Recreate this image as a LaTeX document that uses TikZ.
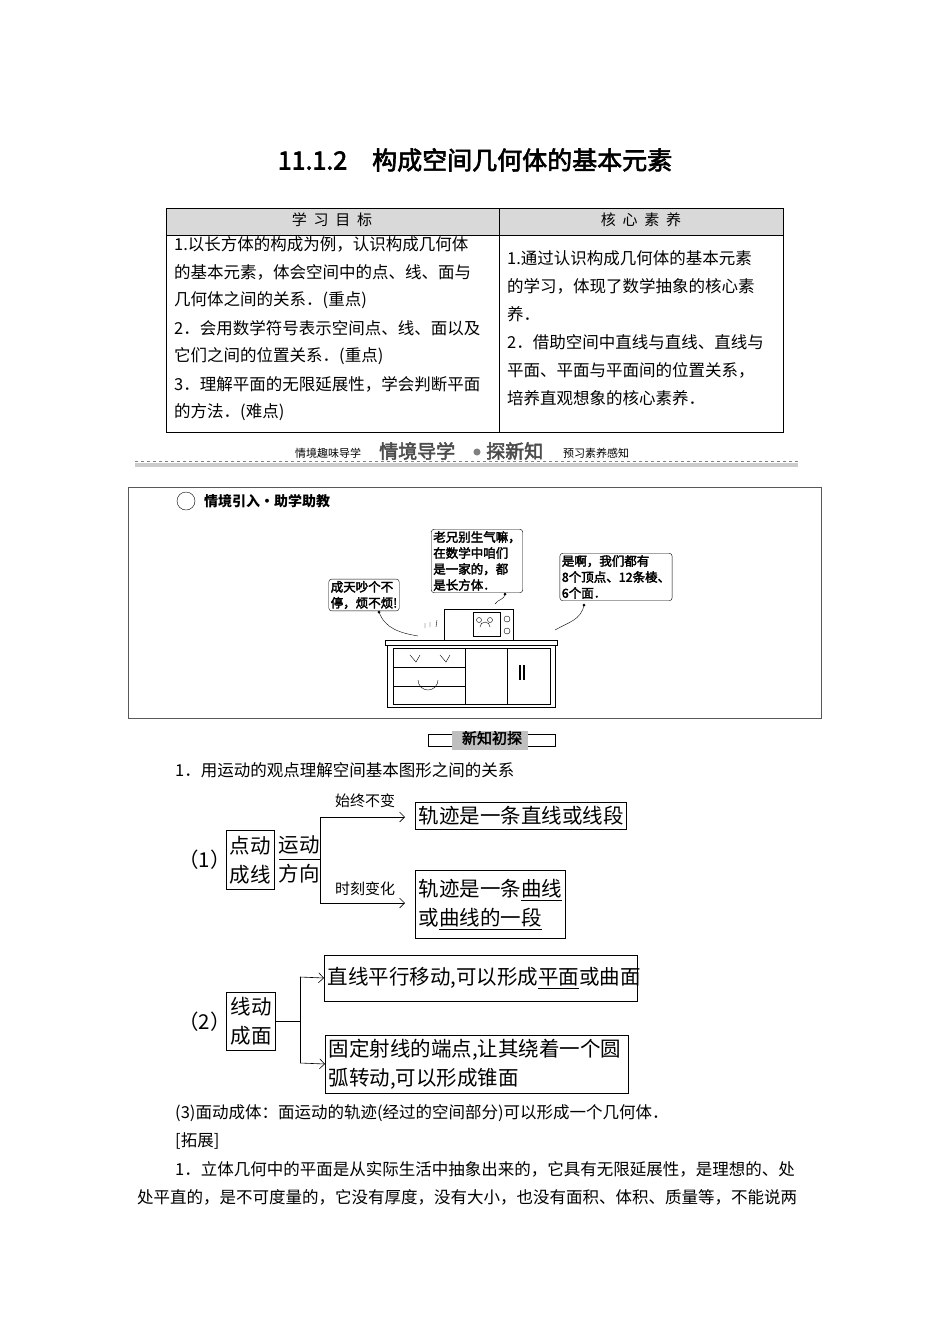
\documentclass[tikz,border=0pt]{standalone}
\usepackage{fontspec}
\setmainfont{Noto Sans CJK SC}[AutoFakeBold=2.5]
\usetikzlibrary{arrows.meta}
\tikzset{
  txt/.style={anchor=west,inner sep=0pt,font=\fontsize{16.5}{20}\selectfont},
  ftxt/.style={font=\fontsize{20.5}{29}\selectfont},
  fbox/.style={draw,line width=1pt,inner sep=0pt},
  bub/.style={draw,rounded corners=3pt,align=left,inner sep=2pt,font=\fontsize{12.5}{16}\selectfont\bfseries},
  arr/.style={-{Straight Barb[length=5pt]},line width=0.6pt},
  ln/.style={line width=0.6pt}
}
\begin{document}
\begin{tikzpicture}[x=1pt,y=-1pt]
\useasboundingbox[fill=white] (0,0) rectangle (950,1344);
% title
\node[font=\fontsize{25}{30}\selectfont\bfseries] (title) at (475,160) {11.1.2\quad 构成空间几何体的基本元素};
% table
\fill[gray!30] (166,208) rectangle (783,235);
\draw[line width=0.6pt] (166,208) rectangle (783,432);
\draw[line width=0.6pt] (166,235) -- (783,235) (499,208) -- (499,432);
\node[font=\fontsize{15}{18}\selectfont] (h1) at (332,220) {学\ \ 习\ \ 目\ \ 标};
\node[font=\fontsize{15}{18}\selectfont] (h2) at (641,220) {核\ \ 心\ \ 素\ \ 养};
\foreach \t [count=\i] in {1.以长方体的构成为例，认识构成几何体,的基本元素，体会空间中的点、线、面与,几何体之间的关系．(重点),2．会用数学符号表示空间点、线、面以及,它们之间的位置关系．(重点),3．理解平面的无限延展性，学会判断平面,的方法．(难点)}
  \node[txt] (l\i) at (174,{244+28*(\i-1)}) {\t};
\foreach \t [count=\i] in {1.通过认识构成几何体的基本元素,的学习，体现了数学抽象的核心素,养．,2．借助空间中直线与直线、直线与,平面、平面与平面间的位置关系，,培养直观想象的核心素养．}
  \node[txt] (r\i) at (507,{258+28*(\i-1)}) {\t};
% banner
\draw[gray,dashed,line width=0.6pt] (135,461) -- (798,461);
\fill[gray!40] (135,463) rectangle (798,467);
\node[font=\fontsize{11}{13}\selectfont,anchor=west,inner sep=0pt] (b1) at (295,453) {情境趣味导学};
\node[font=\fontsize{19}{22}\selectfont\bfseries,anchor=west,inner sep=0pt,text=gray!60!black] (b2) at (379,451) {情境导学};
\node[circle,fill=gray,inner sep=2.5pt] (b3) at (477,452) {};
\node[font=\fontsize{19}{22}\selectfont\bfseries,anchor=west,inner sep=0pt,text=gray!60!black] (b4) at (486,451) {探新知};
\node[font=\fontsize{11}{13}\selectfont,anchor=west,inner sep=0pt] (b5) at (563,453) {预习素养感知};
% scenario box
\draw[line width=0.8pt,gray!70!black] (128,487) rectangle (821,718);
\draw (186,501) circle (9);
\node[font=\fontsize{14}{16}\selectfont\bfseries\itshape,anchor=west,inner sep=0pt] (sc) at (204,501) {情境引入·助学助教};
% cartoon: cabinet
\draw[line width=0.8pt] (385,640) rectangle (557,645);
\draw[line width=0.8pt] (387,645) rectangle (555,707);
\draw (393,648) rectangle (465,704);
\draw (393,667) -- (465,667) (393,686) -- (465,686);
\draw (465,648) rectangle (550,704) (507,648) -- (507,704);
\draw[line width=1.2pt] (520,665) -- (520,680) (524,665) -- (524,680);
\draw (410,655) -- (416,662) -- (420,655) (440,655) -- (446,662) -- (450,655);
\draw (418,680) arc (180:0:10);
% microwave
\draw[line width=0.8pt] (444,609) rectangle (513,640);
\draw (473,612) rectangle (500,636);
\draw (507,619) circle (3) (507,631) circle (3);
\draw (479,620) circle (2.5) (490,620) circle (2.5);
\draw (480,627) arc (180:360:5);
% bubbles
\node[bub] (bl) at (364,595) {成天吵个不\\停，烦不烦!};
\node[bub] (bm) at (477,561) {老兄别生气嘛，\\在数学中咱们\\是一家的，都\\是长方体．};
\node[bub] (br) at (616,577) {是啊，我们都有\\8个顶点、12条棱、\\6个面．};
\coordinate (tl) at (418,636);
\coordinate (tm) at (495,604);
\coordinate (tr) at (555,630);
\fill (379,612) circle (1.5) (505,594) circle (1.5) (584,605) circle (1.5);
\draw (379,612) to[out=-70,in=170] (tl);
\draw (505,594) to[out=-90,in=60] (tm);
\draw (584,605) to[out=-100,in=30] (tr);
\draw (425,628) -- (425,623) (430,627) -- (430,622) (436,627) -- (437,620);
% new knowledge banner
\draw (428,734) rectangle (555,746);
\fill[gray!50] (452,731) rectangle (528,750);
\node[font=\fontsize{15}{18}\selectfont\bfseries,inner sep=0pt] (nk) at (492,738) {新知初探};
\node[txt] (p1) at (175,770) {1．用运动的观点理解空间基本图形之间的关系};
% flowchart 1
\node[ftxt,anchor=west,inner sep=0pt] (n1) at (178,860) {（1）};
\node[fbox,ftxt,align=center,minimum width=48pt,minimum height=59pt] (dd) at (250,860) {点动\\成线};
\node[ftxt,align=center,inner sep=0pt] (yd) at (299,859) {运动\\方向};
\draw[ln] (279,859) -- (320,859);
\draw[ln] (320,817) -- (320,903);
\node[fbox,ftxt,anchor=west,minimum height=27pt,inner xsep=3pt] (g1) at (415,816) {轨迹是一条直线或线段};
\node[fbox,ftxt,anchor=north west,align=left,minimum height=68pt,inner xsep=3pt] (g2) at (415,870) {轨迹是一条\underline{曲线}\\或\underline{曲线的一段}};
\draw[arr] (320,817) -- (405,817);
\draw[arr] (320,903) -- (405,903);
\node[font=\fontsize{15}{18}\selectfont,inner sep=0pt] (s1) at (365,801) {始终不变};
\node[font=\fontsize{15}{18}\selectfont,inner sep=0pt] (s2) at (365,889) {时刻变化};
% flowchart 2
\node[ftxt,anchor=west,inner sep=0pt] (n2) at (178,1022) {（2）};
\node[fbox,ftxt,align=center,minimum width=49pt,minimum height=58pt] (xd) at (251,1021) {线动\\成面};
\draw[ln] (xd.east) -- (300,1021);
\draw[ln] (300,977) -- (300,1063);
\node[fbox,ftxt,anchor=west,minimum width=313pt,minimum height=46pt,inner xsep=3pt,align=left,text width=307pt] (g3) at (324,978) {直线平行移动,可以形成\underline{平面}或曲面};
\node[fbox,ftxt,anchor=west,minimum width=303pt,minimum height=58pt,inner xsep=3pt,align=left,text width=297pt] (g4) at (325,1064) {固定射线的端点,让其绕着一个圆\\弧转动,可以形成锥面};
\draw[arr] (300,977) -- (g3.west);
\draw[arr] (300,1063) -- (g4.west);
% text below
\node[txt] (p3) at (175,1113) {(3)面动成体：面运动的轨迹(经过的空间部分)可以形成一个几何体．};
\node[txt] (p4) at (175,1141) {[拓展]};
\node[txt] (p5) at (175,1169) {1．立体几何中的平面是从实际生活中抽象出来的，它具有无限延展性，是理想的、处};
\node[txt] (p6) at (137,1197) {处平直的，是不可度量的，它没有厚度，没有大小，也没有面积、体积、质量等，不能说两};
\end{tikzpicture}
\end{document}
